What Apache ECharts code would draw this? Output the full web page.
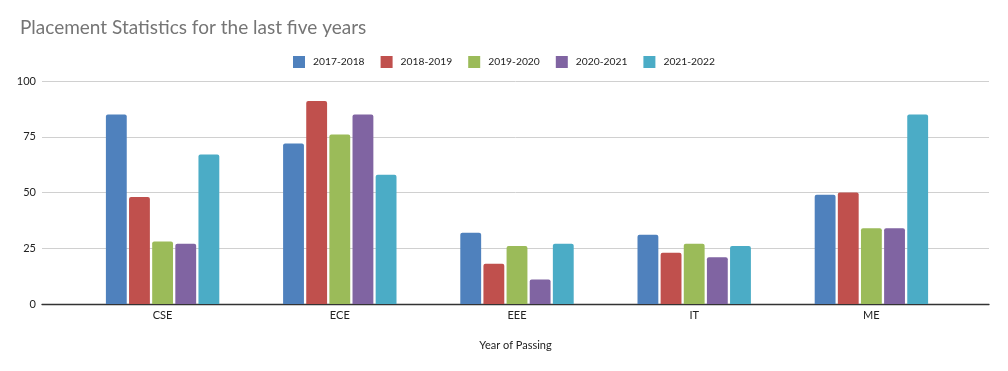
<!DOCTYPE html>
<html>
<head>
<meta charset="utf-8">
<script src="https://cdn.jsdelivr.net/npm/echarts@6/dist/echarts.min.js"></script>
<style>
  html, body { margin: 0; padding: 0; background: #fff; }
  #pic { width: 1008px; height: 371px; }
</style>
</head>
<body>
<div id="pic"></div>
<script>
  var branches = ['CSE', 'ECE', 'EEE', 'IT', 'ME'];
  var years = ['2017-2018', '2018-2019', '2019-2020', '2020-2021', '2021-2022'];
  var y2017 = [85, 72, 32, 31, 49];
  var y2018 = [48, 91, 18, 23, 50];
  var y2019 = [28, 76, 26, 27, 34];
  var y2020 = [27, 85, 11, 21, 34];
  var y2021 = [67, 58, 27, 26, 85];
  var yTicks = [0, 25, 50, 75, 100];

  var font = 'Lato, "Open Sans", sans-serif';
  var myChart = echarts.init(document.getElementById('pic'));

  var seriesData = [y2017, y2018, y2019, y2020, y2021];
  var series = [];
  for (var i = 0; i < years.length; i++) {
    series.push({
      name: years[i],
      type: 'bar',
      xAxisIndex: 1,
      yAxisIndex: 1,
      barCategoryGap: '36%',
      barGap: '11%',
      itemStyle: { borderRadius: [2, 2, 0, 0] },
      data: seriesData[i]
    });
  }

  var option = {
    animation: false,
    color: ['#4f81bd', '#c0504d', '#9bbb59', '#8064a2', '#4bacc6'],
    title: {
      text: 'Placement Statistics for the last five years',
      left: 15,
      top: 13,
      textStyle: { fontFamily: font, fontSize: 19, fontWeight: 'normal', color: '#757575' }
    },
    legend: {
      top: 51,
      left: 'center',
      itemWidth: 12,
      itemHeight: 12,
      itemGap: 16,
      icon: 'rect',
      textStyle: { fontFamily: font, fontSize: 10.3, color: '#222', padding: [0, 0, 0, 3] },
      data: years
    },
    grid: [
      { left: 42, right: 19, top: 81, bottom: 67 },
      { left: 74, right: 48, top: 81, bottom: 67 }
    ],
    xAxis: [
      {
        gridIndex: 0,
        type: 'value',
        min: 0,
        max: 1,
        axisLine: { show: true, onZero: false, lineStyle: { color: '#333', width: 1.3 } },
        axisTick: { show: false },
        axisLabel: { show: false },
        splitLine: { show: false },
        name: 'Year of Passing',
        nameLocation: 'middle',
        nameGap: 36,
        nameTextStyle: { fontFamily: font, fontSize: 11, color: '#222' }
      },
      {
        gridIndex: 1,
        type: 'category',
        data: branches,
        axisLine: { show: false },
        axisTick: { show: false },
        axisLabel: { fontFamily: font, fontSize: 11, color: '#222', margin: 6 }
      }
    ],
    yAxis: [
      {
        gridIndex: 0,
        type: 'value',
        min: 0,
        max: 100,
        interval: 25,
        axisLine: { show: false },
        axisTick: { show: false },
        axisLabel: { fontFamily: font, fontSize: 11, color: '#222', margin: 6 },
        splitLine: { lineStyle: { color: '#d0d0d0' } }
      },
      {
        gridIndex: 1,
        type: 'value',
        min: 0,
        max: 100,
        interval: 25,
        show: false,
        splitLine: { show: false }
      }
    ],
    series: series
  };
  myChart.setOption(option);
</script>
</body>
</html>
